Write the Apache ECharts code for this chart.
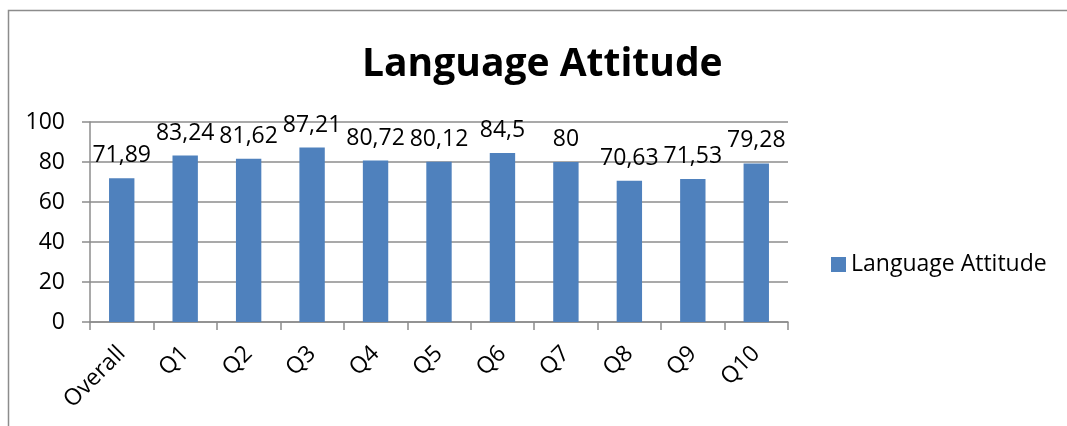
<!DOCTYPE html>
<html style="height: 100%">
<head>
  <meta charset="utf-8">
  <script type="text/javascript" src="https://cdn.jsdelivr.net/npm/echarts@6/dist/echarts.min.js"></script>
</head>
<body style="height: 100%; margin: 0; background: #fff">
  <div id="container" style="width: 1067px; height: 426px"></div>
  <script type="text/javascript">
    var categories = ['Overall', 'Q1', 'Q2', 'Q3', 'Q4', 'Q5', 'Q6', 'Q7', 'Q8', 'Q9', 'Q10'];
    var values = [71.89, 83.24, 81.62, 87.21, 80.72, 80.12, 84.5, 80, 70.63, 71.53, 79.28];
    var seriesName = 'Language Attitude';

    var font = '"Open Sans", sans-serif';
    var myChart = echarts.init(document.getElementById('container'));

    var option = {
      animation: false,
      textStyle: { fontFamily: font },
      graphic: [{
        type: 'rect',
        shape: { x: 8.5, y: 10.5, width: 1200, height: 600 },
        style: { fill: 'none', stroke: '#8c8c8c', lineWidth: 1.5 },
        silent: true
      }],
      title: {
        text: 'Language Attitude',
        left: 357,
        top: 40,
        textStyle: { fontFamily: font, fontSize: 39, fontWeight: 'bold', color: '#000' }
      },
      legend: {
        data: [seriesName],
        orient: 'vertical',
        left: 826,
        top: 248,
        itemWidth: 15,
        itemHeight: 15,
        itemGap: 5,
        icon: 'rect',
        textStyle: { fontFamily: font, fontSize: 23, color: '#000' }
      },
      grid: { left: 90, right: 279, top: 122, bottom: 104 },
      xAxis: {
        type: 'category',
        data: categories,
        axisLine: { lineStyle: { color: '#8c8c8c', width: 1.5 } },
        axisTick: { show: true, length: 8, lineStyle: { color: '#8c8c8c', width: 1.5 } },
        axisLabel: { rotate: 45, fontSize: 23, color: '#000', margin: 28, fontFamily: font }
      },
      yAxis: {
        type: 'value',
        min: 0,
        max: 100,
        interval: 20,
        axisLine: { show: true, lineStyle: { color: '#8c8c8c', width: 1.5 } },
        axisTick: { show: true, length: 8, lineStyle: { color: '#8c8c8c', width: 1.5 } },
        splitLine: { lineStyle: { color: '#8c8c8c', width: 1.5 } },
        axisLabel: { fontSize: 23, color: '#000', margin: 25, fontFamily: font }
      },
      series: [{
        name: seriesName,
        type: 'bar',
        data: values,
        barWidth: '40%',
        itemStyle: { color: '#4f81bd' },
        label: {
          show: true,
          position: 'top',
          distance: 11,
          fontSize: 23,
          color: '#000',
          fontFamily: font,
          formatter: function (p) { return String(p.value).replace('.', ','); }
        }
      }]
    };
    myChart.setOption(option);
  </script>
</body>
</html>
